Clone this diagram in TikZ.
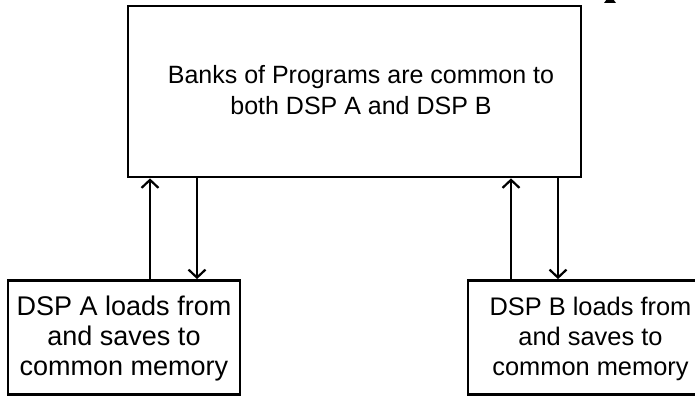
\documentclass[tikz,border=0pt]{standalone}
\usepackage{fontspec}
\setmainfont{Liberation Sans}
\usetikzlibrary{arrows.meta}
\begin{document}
\begin{tikzpicture}[x=1pt,y=1pt,
  box/.style={draw,line width=2.8pt,inner sep=0pt},
  lbl/.style={align=center,font=\fontsize{25}{30.5}\selectfont,inner sep=0pt},
  lbls/.style={align=center,font=\fontsize{27}{30}\selectfont,inner sep=0pt},
  lblb/.style={align=center,font=\fontsize{25.4}{30}\selectfont,inner sep=0pt},
  conn/.style={line width=2.2pt,-{Straight Barb[length=8pt,width=17pt,line width=2.2pt]}}]
\useasboundingbox (0,0) rectangle (695,396);
\begin{scope}
\clip (0,0) rectangle (695,396);
% main box
\node[box,minimum width=453pt,minimum height=171pt] (M) at (354.5,304.5) {};
\node[lbl] (Mt) at (361,306) {Banks of Programs are common to\\both DSP A and DSP B};
% lower boxes
\node[box,minimum width=232pt,minimum height=114pt] (A) at (124,58.5) {};
\node[lbls] (At) at (124,57) {DSP A loads from\\and saves to\\common memory};
\node[box,minimum width=244pt,minimum height=114pt] (B) at (590,58.5) {};
\node[lblb] (Bt) at (590.5,57) {DSP B loads from\\and saves to\\common memory};
% connector x positions
\coordinate (xa1) at (150,0);
\coordinate (xa2) at (197,0);
\coordinate (xb1) at (511,0);
\coordinate (xb2) at (558,0);
\draw[conn] (A.north -| xa1) -- (M.south -| xa1);
\draw[conn] (M.south -| xa2) -- (A.north -| xa2);
\draw[conn] (B.north -| xb1) -- (M.south -| xb1);
\draw[conn] (M.south -| xb2) -- (B.north -| xb2);
% fragment at top edge
\fill (604,393) -- (616,393) -- (613,397) -- (607,397) -- cycle;
\end{scope}
\end{tikzpicture}
\end{document}
